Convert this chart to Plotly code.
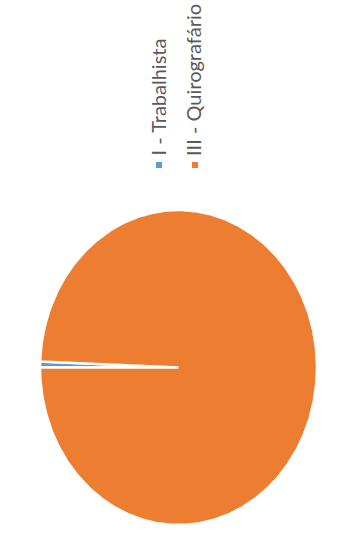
import numpy as np
import plotly.graph_objects as go

categories = ["I - Trabalhista", "III - Quirografário"]
values = [0.6, 99.4]
colors = ["#5B9BD5", "#ED7D31"]

W, H = 347, 534
cx, cy = 178.5, 367.5   # pie centre in pixels
rx, ry = 138.5, 157.5   # pie radii in pixels

fig = go.Figure()
total = sum(values)
start = 180.0  # degrees, pointing left
for cat, v, col in zip(categories, values, colors):
    span = 360.0 * v / total
    ang = np.radians(np.linspace(start, start - span, max(int(span * 2), 8)))
    xs = np.concatenate([[0], np.cos(ang), [0]])
    ys = np.concatenate([[0], np.sin(ang), [0]])
    fig.add_trace(go.Scatter(x=xs, y=ys, fill="toself", fillcolor=col,
                             mode="lines", line=dict(color="white", width=2.5),
                             name=cat, hoverinfo="name", showlegend=False))
    start -= span

fig.update_xaxes(range=[-cx / rx, (W - cx) / rx], visible=False, fixedrange=True)
fig.update_yaxes(range=[-(H - cy) / ry, cy / ry], visible=False, fixedrange=True)

legend_x = [159, 195]
for cat, col, lx in zip(categories, colors, legend_x):
    fig.add_shape(type="rect", xref="paper", yref="paper",
                  x0=(lx - 3) / W, x1=(lx + 3) / W,
                  y0=1 - 168 / H, y1=1 - 162 / H,
                  fillcolor=col, line=dict(width=0))
    fig.add_annotation(text=cat, xref="paper", yref="paper",
                       x=(lx - 2) / W, y=1 - 158 / H, xanchor="center", yanchor="bottom",
                       textangle=-90, showarrow=False,
                       font=dict(family="Lato, Open Sans, sans-serif", size=20, color="#595959"))

fig.update_layout(width=W, height=H, margin=dict(l=0, r=0, t=0, b=0),
                  paper_bgcolor="white", plot_bgcolor="white", showlegend=False)
fig.write_html("out.html", config={"displayModeBar": False},
               post_script="document.body.style.margin='0';")
